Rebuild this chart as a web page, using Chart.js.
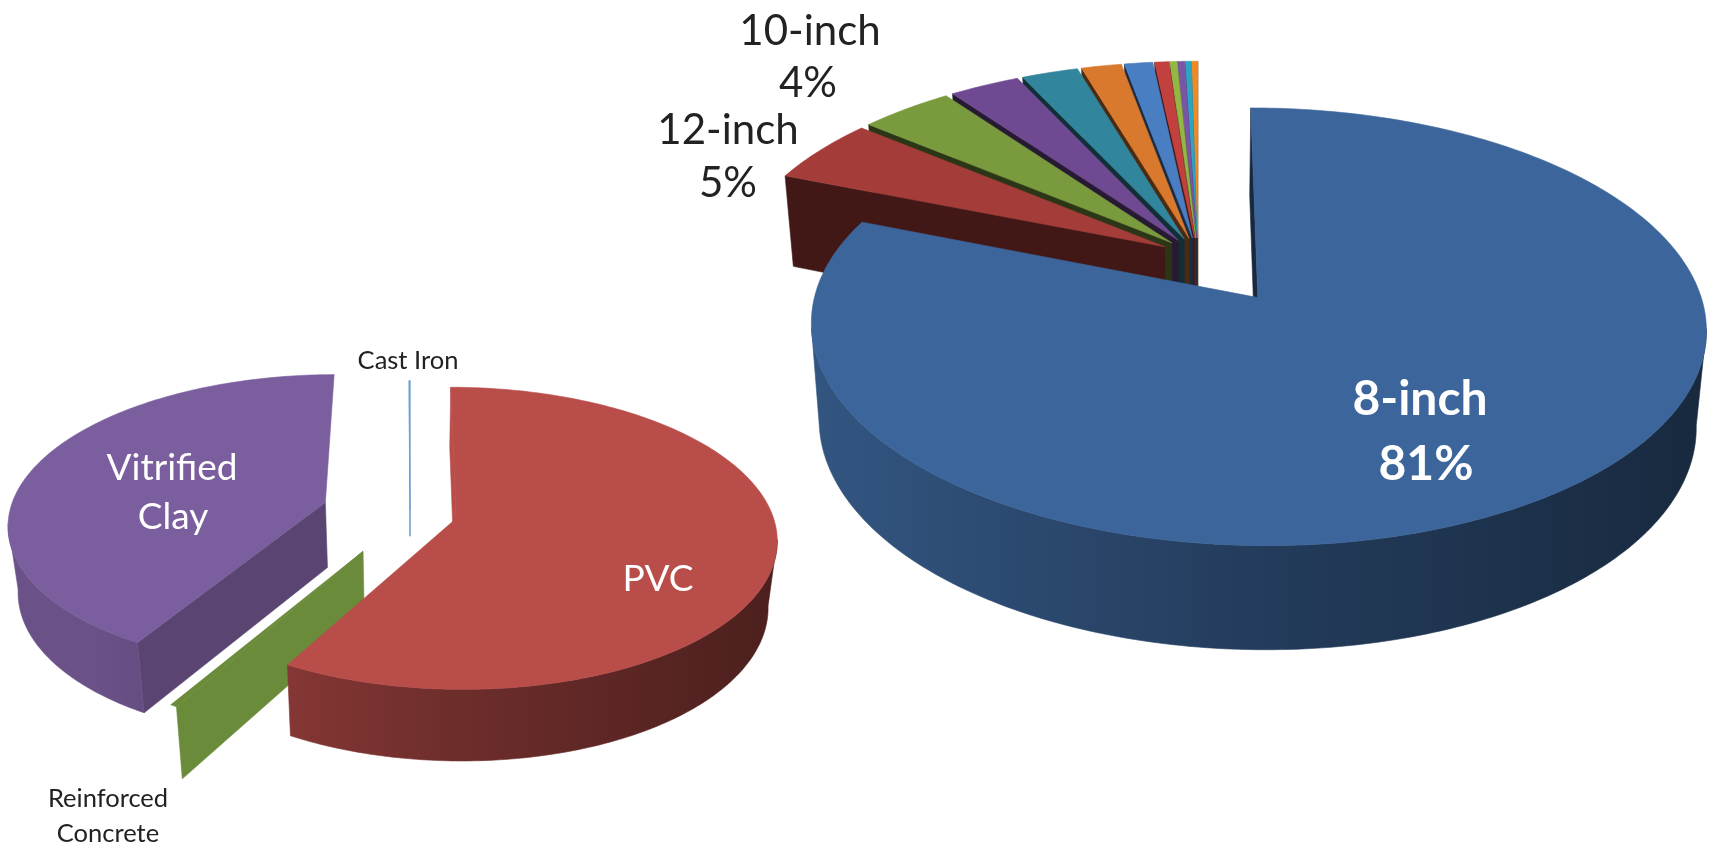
<!DOCTYPE html>
<html>
<head>
<meta charset="utf-8">
<title>Sewer pipe material and diameter</title>
<script src="https://cdn.jsdelivr.net/npm/chart.js@4"></script>
<style>
    html, body { margin: 0; padding: 0; background: #fff; overflow: hidden; }
    canvas { position: absolute; left: 0; top: 0; }
</style>
</head>
<body>
<canvas id="material-pie" width="1718" height="846"></canvas>
<canvas id="diameter-pie" width="1718" height="846"></canvas>
<script>
// Pipe material shares
const materialCategories = ['PVC', 'Reinforced Concrete', 'Vitrified Clay', 'Cast Iron'];
const materialValues = [58.1, 0.3, 41.55, 0.05];

// Pipe diameter shares, only the three largest are named
const diameterCategories = ['8-inch', '12-inch', '10-inch', '', '', '', '', '', '', '', '', ''];
const diameterValues = [81, 5, 4, 3, 2.4, 1.7, 1.2, 0.6, 0.3, 0.3, 0.25, 0.25];

// Slice styles
const materialColors = ['#b94d49', '#6a8b3a', '#7b5e9e', '#6f9fd0'];
const materialExplode = [15, 29, 28, 2];       // percent of the radius
const materialFaceShade = [1, 1, 0.72, 1];
const materialDepthScale = [1, 1, 1, 0.4];
const materialDrawOrder = [2, 3, 1, 0];

const diameterColors = ['#3c669b', '#a43c39', '#7a9a3e', '#6f4a92', '#31859c', '#d9792e',
    '#4a7ec2', '#c2403d', '#93b744', '#7a55a5', '#2aa5c4', '#f08a24'];
const diameterExplode = [24, 9, 9, 9, 9, 9, 9, 9, 9, 9, 9, 9];
const diameterFaceShade = [0.4, 0.4, 0.35, 0.35, 0.35, 0.35, 0.35, 0.35, 0.35, 0.35, 0.35, 0.35];
const diameterDepthScale = [1, 1, 1, 1, 1, 1, 1, 1, 1, 1, 1, 1];
const diameterDrawOrder = [11, 10, 9, 8, 7, 6, 5, 4, 3, 2, 1, 0];

function shade(hex, f) {
    const n = parseInt(hex.slice(1), 16);
    const r = Math.round((n >> 16 & 255) * f);
    const g = Math.round((n >> 8 & 255) * f);
    const b = Math.round((n & 255) * f);
    return `rgb(${r},${g},${b})`;
}

// Draws the library's arc elements as tilted slabs seen in perspective
const tiltedPie = {
    id: 'tiltedPie',
    beforeDatasetsDraw(chart, args, opts) {
        const ctx = chart.ctx;
        const arcs = chart.getDatasetMeta(0).data;
        const { cx, cy, rx, ry, persp, depth, shrink } = opts;

        const top = (X, Y) => {
            const w = 1 + persp * Y;
            return [cx + rx * X / w, cy - ry * Y / w];
        };
        const bottom = (X, Y, k) => {
            const p = top(X, Y);
            return [cx + (p[0] - cx) * (1 - (1 - shrink) * k), p[1] + depth * k * (1 - 0.09 * Y)];
        };
        const fillPath = (pts, color) => {
            ctx.beginPath();
            pts.forEach((p, i) => i ? ctx.lineTo(p[0], p[1]) : ctx.moveTo(p[0], p[1]));
            ctx.closePath();
            ctx.fillStyle = color;
            ctx.strokeStyle = color;
            ctx.lineWidth = 0.6;
            ctx.fill();
            ctx.stroke();
        };

        opts.order.forEach(i => {
            const arc = arcs[i];
            const color = opts.colors[i];
            const k = opts.depthScale[i];
            const mid = (arc.startAngle + arc.endAngle) / 2;
            const sweep = arc.endAngle - arc.startAngle;
            const off = arc.options.offset / 100;
            const ox = Math.cos(mid) * off;
            const oy = -Math.sin(mid) * off;
            const rim = a => [ox + Math.cos(a), oy - Math.sin(a)];

            // cut faces: the clockwise-leading one faces the viewer on the left half
            const apex = [ox, oy];
            const sEdge = rim(arc.startAngle);
            const eEdge = rim(arc.endAngle);
            const faceColor = shade(color, opts.faceShade[i]);
            const faceQuad = e => [top(apex[0], apex[1]), top(e[0], e[1]), bottom(e[0], e[1], k), bottom(apex[0], apex[1], k)];
            if (Math.cos(arc.endAngle) >= -0.001) fillPath(faceQuad(eEdge), faceColor);
            if (Math.cos(arc.startAngle) <= 0.001) fillPath(faceQuad(sEdge), faceColor);

            const steps = Math.max(4, Math.ceil(sweep * 60));

            // outer wall, front part only; slivers show just their cut face
            if (sweep > 0.02) {
                const grad = ctx.createLinearGradient(cx - rx, 0, cx + rx * 1.2, 0);
                grad.addColorStop(0, shade(color, 0.86));
                grad.addColorStop(0.5, shade(color, 0.6));
                grad.addColorStop(1, shade(color, 0.4));
                const upper = [], lower = [];
                for (let s = 0; s <= steps; s++) {
                    const a = arc.startAngle + sweep * s / steps;
                    if (Math.sin(a) < persp) continue;
                    const e = rim(a);
                    upper.push(top(e[0], e[1]));
                    lower.unshift(bottom(e[0], e[1], k));
                }
                if (upper.length > 1) fillPath(upper.concat(lower), grad);
            }

            // top of the slice
            const face = [top(apex[0], apex[1])];
            for (let s = 0; s <= steps; s++) {
                const e = rim(arc.startAngle + sweep * s / steps);
                face.push(top(e[0], e[1]));
            }
            fillPath(face, color);
        });
        return false;
    },
    // a cancelled dataset pass skips afterDatasetsDraw, so the labels go here
    afterDraw(chart, args, opts) {
        const ctx = chart.ctx;
        ctx.textAlign = 'center';
        ctx.textBaseline = 'middle';
        opts.labels.forEach(l => {
            ctx.font = l.font;
            ctx.fillStyle = l.color;
            ctx.fillText(l.text, l.x, l.y);
        });
    }
};

function makePie(id, labels, values, colors, explode, tilt) {
    return new Chart(document.getElementById(id), {
        type: 'pie',
        data: {
            labels: labels,
            datasets: [{ data: values, backgroundColor: colors, offset: explode, borderWidth: 0 }]
        },
        options: {
            responsive: false,
            animation: false,
            plugins: {
                legend: { display: false },
                tooltip: { enabled: false },
                tiltedPie: tilt
            }
        },
        plugins: [tiltedPie]
    });
}

const bigFont = '42px Lato';
const boldFont = 'bold 48px Lato';
const midFont = '37px Lato';
const smallFont = '25.5px Lato';

makePie('material-pie', materialCategories, materialValues, materialColors, materialExplode, {
    cx: 410, cy: 513, rx: 316, ry: 147, persp: 0.13, depth: 65.5, shrink: 0.975,
    colors: materialColors, faceShade: materialFaceShade, depthScale: materialDepthScale, order: materialDrawOrder,
    labels: [
        { text: 'Vitrified', x: 172, y: 468, font: midFont, color: '#fff' },
        { text: 'Clay', x: 173, y: 517, font: midFont, color: '#fff' },
        { text: materialCategories[0], x: 658, y: 579, font: midFont, color: '#fff' },
        { text: materialCategories[3], x: 408, y: 361, font: smallFont, color: '#222' },
        { text: 'Reinforced', x: 108, y: 799, font: smallFont, color: '#222' },
        { text: 'Concrete', x: 108, y: 834, font: smallFont, color: '#222' }
    ]
});

makePie('diameter-pie', diameterCategories, diameterValues, diameterColors, diameterExplode, {
    cx: 1198, cy: 256, rx: 432, ry: 204, persp: 0.13, depth: 94, shrink: 0.98,
    colors: diameterColors, faceShade: diameterFaceShade, depthScale: diameterDepthScale, order: diameterDrawOrder,
    labels: [
        { text: diameterCategories[2], x: 810, y: 31, font: bigFont, color: '#222' },
        { text: diameterValues[2] + '%', x: 808, y: 83, font: bigFont, color: '#222' },
        { text: diameterCategories[1], x: 728, y: 130, font: bigFont, color: '#222' },
        { text: diameterValues[1] + '%', x: 728, y: 183, font: bigFont, color: '#222' },
        { text: diameterCategories[0], x: 1420, y: 400, font: boldFont, color: '#fff' },
        { text: diameterValues[0] + '%', x: 1426, y: 465, font: boldFont, color: '#fff' }
    ]
});
</script>
</body>
</html>
